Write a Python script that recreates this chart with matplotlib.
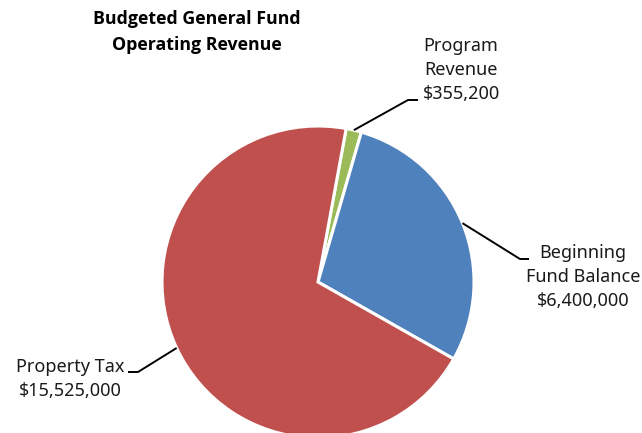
import numpy as np
import matplotlib.pyplot as plt

plt.rcParams['font.family'] = ['Noto Sans', 'DejaVu Sans']

# revenue sources, clockwise from just right of 12 o'clock
labels = ['Program\nRevenue', 'Beginning\nFund Balance', 'Property Tax']
values = [355200, 6400000, 15525000]
colors = ['#9BBB59', '#4F81BD', '#C0504D']

W, H = 642, 433
fig = plt.figure(figsize=(W / 100, H / 100), dpi=100)
ax = fig.add_axes([0, 0, 1, 1])

cx, cy, r = 318, H - 282, 156
start = 79.6
wedges, _ = ax.pie(values, colors=colors, startangle=start, counterclock=False,
                   center=(cx, cy), radius=r, frame=True,
                   wedgeprops=dict(edgecolor='white', linewidth=2.2))
ax.set_xlim(0, W)
ax.set_ylim(0, H)
ax.set_aspect('equal')
ax.axis('off')

# elbow point, end of horizontal tick, text anchor
callouts = [
    ((408, 100), (418, 100), (461, 70)),
    ((520, 259), (529, 259), (583, 277)),
    ((138, 372), (128, 372), (70, 379)),
]

txt = '#1a1a1a'
for w, lab, v, (elbow, tick, pos) in zip(wedges, labels, values, callouts):
    mid = np.deg2rad((w.theta1 + w.theta2) / 2)
    x0 = cx + r * np.cos(mid)
    y0 = cy + r * np.sin(mid)
    ax.plot([x0, elbow[0], tick[0]], [y0, H - elbow[1], H - tick[1]],
            color='black', lw=1.4, solid_capstyle='butt')
    ax.text(pos[0], H - pos[1], f'{lab}\n${v:,.0f}', ha='center', va='center',
            fontsize=13, color=txt, linespacing=1.45)

ax.text(197, H - 32, 'Budgeted General Fund\nOperating Revenue', ha='center',
        va='center', fontsize=12.8, fontweight='bold', family=['Open Sans', 'DejaVu Sans'],
        color='black', linespacing=1.5)

fig.savefig('out.png', dpi=100)
